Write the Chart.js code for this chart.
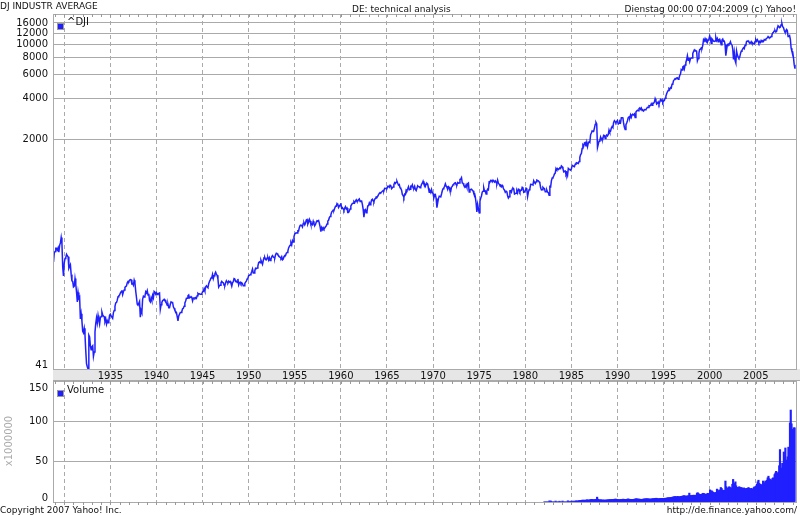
<!DOCTYPE html>
<html><head><meta charset="utf-8">
<script src="https://cdn.jsdelivr.net/npm/chart.js@4.4.1/dist/chart.umd.min.js"></script>
<style>
html,body{margin:0;padding:0;background:#fff;}
body{width:800px;height:515px;position:relative;overflow:hidden;font-family:"DejaVu Sans",sans-serif;color:#111;}
.t{position:absolute;font-size:9px;line-height:12px;white-space:nowrap;}
canvas{position:absolute;left:0;}
#c1{top:0;}
#c2{top:381px;}
.lg{position:absolute;font-size:10px;line-height:12px;white-space:nowrap;}
.sw{position:absolute;width:5px;height:5px;background:#2020ff;border:1px solid #999;}
.ytitle{position:absolute;left:7.5px;top:441px;font-size:10px;color:#aaa;white-space:nowrap;transform:translate(-50%,-50%) rotate(-90deg);}
</style></head><body>
<canvas id="c1" width="800" height="381"></canvas>
<canvas id="c2" width="800" height="134"></canvas>
<div class="t" style="left:0;top:0">DJ INDUSTR AVERAGE</div>
<div class="t" style="left:352px;top:3px">DE: technical analysis</div>
<div class="t" style="right:4px;top:3px">Dienstag 00:00 07:04:2009 (c) Yahoo!</div>
<div class="sw" style="left:57px;top:23px"></div>
<div class="lg" style="left:67px;top:16px">^DJI</div>
<div class="sw" style="left:57px;top:390px"></div>
<div class="lg" style="left:67px;top:384px">Volume</div>
<div class="ytitle">x1000000</div>
<div class="t" style="left:0;top:504px">Copyright 2007 Yahoo! Inc.</div>
<div class="t" style="right:3px;top:504px">http://de.finance.yahoo.com/</div>
<script>
// ---- DJIA monthly values (first value = October 1928) ----
const priceStartYear = 1928, priceStartMonth = 9;
const dji1920s = [252,293,300, 317,317,308,319,297,333,347,380,343,230,199,248];
const dji1930s = [
 267,271,286,279,275,226,233,240,204,183,181,165,
 167,190,172,151,128,150,136,139,96,105,93,78,
 76,82,73,56,45,42.8,41.22,73,71,61,57,60,
 61,51,55,77,89,98,90,102,94,88,98,100,
 108,103,101,100,92,96,88,93,90,93,102,104,
 101,101,97,107,111,119,126,127,132,140,142,144,
 149,152,156,145,152,157,164,166,168,177,181,180,
 185,187,186,174,175,170,185,177,154,138,123,121,
 121,129,99,111,107,134,141,139,141,152,149,155,
 144,147,131,128,137,131,143,137,153,151,146,150];
const dji1940s = [
 145,147,148,149,113,122,127,131,132,134,131,131,
 125,121,123,116,116,123,128,127,127,118,115,111,
 109,107,100,93,101,104,107,107,109,114,115,119,
 126,130,136,136,142,144,137,138,140,138,130,136,
 137,136,138,136,142,148,146,147,146,146,147,152,
 153,160,154,165,168,165,163,174,181,186,192,193,
 204,190,199,206,212,205,201,189,165,169,170,177,
 181,178,177,170,169,177,183,179,177,182,179,181,
 175,167,177,180,190,189,181,182,178,189,171,177,
 179,174,177,174,168,168,175,179,182,189,191,200];
const dji1950s = [
 201,203,206,214,223,209,209,217,226,225,227,235,
 249,252,248,259,250,242,258,270,271,262,261,269,
 271,260,270,258,263,274,280,275,271,269,284,292,
 290,284,280,275,272,268,275,261,264,276,281,281,
 292,295,303,319,327,334,348,336,361,352,387,404,
 409,412,410,426,425,451,466,468,467,455,483,488,
 471,484,512,516,478,493,518,502,475,480,473,500,
 480,465,475,494,505,503,508,484,456,421,450,436,
 450,440,447,456,463,478,503,509,532,543,558,584,
 594,604,602,624,644,644,675,665,632,647,660,679];
const dji1960s = [
 623,630,617,602,626,641,617,626,581,581,597,616,
 648,663,677,679,697,684,705,720,702,704,722,731,
 700,708,707,665,614,536,598,609,579,590,649,652,
 683,663,682,718,726,707,695,729,733,755,751,763,
 785,800,813,811,821,832,841,839,875,873,875,874,
 903,903,889,922,918,868,882,893,931,961,947,969,
 984,952,924,933,884,870,847,788,774,748,792,786,
 850,839,866,897,853,860,904,901,927,880,875,905,
 856,840,840,912,899,898,883,896,935,952,985,944,
 946,905,935,950,937,873,816,837,813,856,812,800];
const dji1970s = [
 744,778,786,736,631,684,734,765,761,756,794,839,
 869,879,904,942,908,891,858,898,887,839,831,890,
 902,928,941,954,960,929,925,964,953,956,1018,1020,
 1045,955,951,921,901,892,926,888,947,957,822,851,
 856,860,847,837,802,802,757,679,586,666,619,577,
 704,739,768,821,832,879,832,835,794,836,861,852,
 975,973,999,997,975,1003,985,974,990,965,947,1005,
 954,937,919,927,899,916,891,862,847,818,830,831,
 770,742,757,837,841,819,862,877,866,793,799,805,
 839,809,862,855,822,842,846,888,879,816,822,839];
const dji1980s = [
 876,863,759,817,851,868,935,933,932,925,993,964,
 947,975,1004,998,992,977,952,882,850,853,889,875,
 871,824,823,848,820,812,777,901,896,992,1039,1047,
 1076,1113,1130,1226,1200,1222,1199,1216,1233,1225,1276,1259,
 1221,1155,1165,1171,1105,1132,1087,1224,1207,1207,1188,1212,
 1287,1284,1267,1258,1315,1336,1348,1334,1329,1374,1472,1547,
 1571,1709,1819,1784,1877,1893,1775,1898,1768,1878,1914,1896,
 2158,2224,2305,2286,2292,2419,2572,2663,2596,1740,1834,1939,
 1958,2072,1988,2032,2031,2142,2129,2032,2113,2149,2115,2169,
 2342,2258,2294,2419,2480,2440,2661,2737,2693,2645,2706,2753];
const dji1990s = [
 2591,2627,2707,2657,2877,2881,2905,2614,2453,2365,2560,2634,
 2736,2882,2914,2888,3028,2907,3025,3044,3017,3069,2895,3169,
 3224,3268,3236,3359,3397,3319,3394,3257,3272,3226,3306,3301,
 3310,3371,3436,3428,3527,3516,3540,3651,3555,3681,3684,3754,
 3978,3832,3636,3682,3758,3625,3765,3913,3843,3908,3739,3834,
 3844,4011,4158,4321,4465,4556,4709,4648,4789,4756,5075,5117,
 5395,5486,5588,5569,5643,5655,5529,5616,5882,6029,6522,6448,
 6813,6878,6584,7009,7331,7673,8223,7622,7945,7442,7823,7908,
 7907,8546,8800,9063,8900,8952,8883,7539,7843,8592,9117,9181,
 9359,9307,9786,10789,10560,10971,10655,10829,10337,10730,10878,11497];
const dji2000s = [
 10941,10128,10922,10734,10522,10448,10522,11215,10651,10971,10415,10787,
 10887,10495,9879,10735,10912,10502,10523,9950,8236,9075,9852,10021,
 9920,10106,10404,9946,9925,9243,7702,8664,7592,7286,8896,8342,
 8054,7891,7992,8480,8850,8985,9234,9416,9275,9801,9782,10454,
 10488,10584,10358,10226,10188,10435,10140,10174,10080,10027,10428,10783,
 10490,10766,10504,10193,10467,10275,10641,10482,10569,10440,10806,10718,
 10865,10993,11109,11367,11168,11150,11186,11381,11679,12081,12222,12463,
 12622,12269,12354,13063,13628,13409,13212,13358,13896,14165,13372,13265,
 12650,12266,12263,12820,12638,11350,11378,11544,10851,9325,8829,8776,
 8001,7063,6600];

// ---- Volume, monthly (x 1,000,000), first value = January 1982 ----
const volStartYear = 1982;
const vol1980s = [
 0,0,0,0,0,0,0,1.5,0,1.2,0,0,
 0,0,0,1.2,0,0,0,0,1,0,0,0,
 1.2,0,0,0,0,0,0,1.5,0,0,1,0,
 1,0,1.2,0,1,1.2,1.5,1,1.3,1.5,1.8,1.6,
 2,2,2.5,2,2.3,2,2.5,2.2,2.8,2.3,2.5,2.4,
 2.8,3,3.2,3,2.8,2.6,3,3.2,3.4,6,3.5,3,
 2.6,2.5,2.8,2.4,2.3,2.6,2.2,2.4,2.3,2.5,2.5,2.6,
 2.8,2.8,2.9,3,3.1,3,3.2,3.4,3.2,3.8,3.1,3.2];
const vol1990s = [
 3,2.8,2.9,2.7,3.2,3,3.1,3.6,3.2,3.3,3,2.9,
 3.4,3.8,3.6,3.4,3.3,3.1,3.2,3.1,3.3,3.4,3.5,3.9,
 4,3.8,3.6,3.7,3.4,3.5,3.3,3.2,3.4,3.6,3.7,3.8,
 3.9,4,4,3.9,3.8,3.7,3.6,3.6,3.8,4,4.1,4,
 4.4,4.5,4.7,4.3,4,4,4.1,4.3,4.2,4.4,4.5,4.2,
 4.3,4.5,4.8,4.6,5,5.2,5.3,5.1,5.4,5.6,5.8,6,
 6.2,6.4,6.6,6.8,6.5,6.1,7,6,6.4,6.6,6.9,7,
 7.3,7.5,7.8,7.6,7.2,7.4,7.2,7.6,7.8,11,8,7.8,
 8,8.4,8.2,8.5,8,8.3,8.6,11,11.5,10.5,9.4,9.2,
 9.5,9.6,10.2,10.8,10.4,10,9.4,9.6,10,10.8,10.4,10.2];
const vol2000s = [
 15,13,14,13,12,11.5,11,11.5,12,16,13,14,
 15,14.5,18,17,15,14.5,14,14.5,26,19,17,16.5,
 18,19,18,17,17.5,22,28,21,23,25,20,18,
 18,17.5,19,18,17.5,18,17,16,17.5,17,16.5,16,
 17,16.5,18,17,16.5,16,17,15.5,16,18,19,18,
 20,22,25,27,23,22,20,21,22,26,24,22,
 26,25,27,30,32,29,28,26,27,29,30,28,
 34,36,38,35,36,37,45,65,40,42,48,44,
 62,55,67,52,50,56,68,60,98,114,97,88,
 90,92,92];

// ---- axes: ticks and labels ----
const xMin = 1928.78, xMax = 2009.47;
const xLabelYears = [1935,1940,1945,1950,1955,1960,1965,1970,1975,1980,1985,1990,1995,2000,2005];
const priceMin = 41.22, priceMax = 16630;
const priceTickValues = [41.22,2000,4000,6000,8000,10000,12000,14300];
const priceTickLabels = ['41','2000','4000','6000','8000','10000','12000','16000'];
const volTickValues = [0,50,100,150];
const volTickLabels = ['0','50','100','150'];

// ---- build series ----
const djiAll = [].concat(dji1920s, dji1930s, dji1940s, dji1950s, dji1960s, dji1970s, dji1980s, dji1990s, dji2000s);
const pricePoints = djiAll.map((v, i) => ({x: priceStartYear + (priceStartMonth + i + 1) / 12, y: v}));
const volAll = [].concat(vol1980s, vol1990s, vol2000s);
const volPoints = volAll.map((v, i) => ({x: volStartYear + (i + 0.5) / 12, y: v}));
const yearList = [];
for (let y = Math.ceil(xMin); y <= Math.floor(xMax); y++) yearList.push(y);

const BLUE = '#2020ff', GRID = '#aaaaaa';
Chart.defaults.font.family = '"DejaVu Sans", sans-serif';
Chart.defaults.font.size = 10;
Chart.defaults.color = '#111';

const gridColor5 = c => (c.tick && c.tick.value % 5 === 0) ? GRID : 'rgba(0,0,0,0)';

const yLabels = {
  id: 'yLabels',
  afterDraw(chart, args, o) {
    const {ctx, chartArea: a, scales: {y}} = chart;
    ctx.save();
    ctx.font = '10px "DejaVu Sans"';
    ctx.fillStyle = '#111';
    ctx.textAlign = 'right';
    ctx.textBaseline = 'middle';
    o.values.forEach((v, i) => {
      let py = y.getPixelForValue(v);
      py = Math.min(Math.max(py, a.top + o.topInset), a.bottom - o.bottomInset);
      ctx.fillText(o.labels[i], a.left - 5, py);
    });
    ctx.restore();
  }
};
const frame = {
  id: 'frame',
  beforeDraw(chart, args, o) {
    const {ctx, chartArea: a} = chart;
    if (o.band) {
      ctx.save();
      ctx.fillStyle = '#e6e6e6';
      ctx.fillRect(a.left, a.bottom, chart.width - a.left, chart.height - a.bottom);
      ctx.restore();
    }
  },
  afterDraw(chart, args, o) {
    const {ctx, chartArea: a, scales: {x}} = chart;
    ctx.save();
    ctx.strokeStyle = GRID;
    ctx.lineWidth = 1;
    ctx.strokeRect(Math.round(a.left) + 0.5, Math.round(a.top) + 0.5, Math.round(a.right - a.left) - 1, Math.round(a.bottom - a.top));
    if (o.band) {
      ctx.beginPath();
      ctx.moveTo(a.left, chart.height - 0.5); ctx.lineTo(chart.width, chart.height - 0.5);
      ctx.stroke();
    }
    ctx.strokeStyle = '#999';
    ctx.beginPath();
    for (const yr of yearList) {
      const px = Math.round(x.getPixelForValue(yr)) + 0.5;
      o.marks.forEach(([edge, len]) => {
        const y0 = edge === 'top' ? a.top : a.bottom;
        ctx.moveTo(px, y0); ctx.lineTo(px, y0 + len);
      });
    }
    ctx.stroke();
    ctx.restore();
  }
};

new Chart(document.getElementById('c1'), {
  type: 'line',
  data: {datasets: [{data: pricePoints, borderColor: BLUE, borderWidth: 1.5, pointRadius: 0, tension: 0, fill: false}]},
  options: {
    responsive: false, animation: false,
    layout: {padding: {top: 14, right: 3, left: 0, bottom: 0}},
    plugins: {legend: {display: false}, tooltip: {enabled: false},
      yLabels: {values: priceTickValues, labels: priceTickLabels, topInset: 7, bottomInset: 4},
      frame: {band: true, marks: [['top', 3]]}},
    scales: {
      x: {type: 'linear', min: xMin, max: xMax,
        afterBuildTicks: s => { s.ticks = yearList.map(v => ({value: v})); },
        afterFit: s => { s.height = 12; },
        grid: {color: gridColor5, drawTicks: false, lineWidth: 1},
        border: {display: false, dash: [4, 3]},
        ticks: {autoSkip: false, maxRotation: 0, minRotation: 0, padding: 1, color: '#111', font: {size: 10},
          callback: v => xLabelYears.includes(v) ? String(v) : ''}},
      y: {type: 'logarithmic', min: priceMin, max: priceMax,
        afterBuildTicks: s => { s.ticks = priceTickValues.map(v => ({value: v})); },
        afterFit: s => { s.width = 53; },
        grid: {color: GRID, drawTicks: false, lineWidth: 1},
        border: {display: false},
        ticks: {display: false}}
    }
  },
  plugins: [yLabels, frame]
});

new Chart(document.getElementById('c2'), {
  type: 'bar',
  data: {datasets: [{data: volPoints, backgroundColor: BLUE, borderWidth: 0, barThickness: 1.5}]},
  options: {
    responsive: false, animation: false,
    layout: {padding: {top: 0, right: 3, left: 0, bottom: 0}},
    plugins: {legend: {display: false}, tooltip: {enabled: false},
      yLabels: {values: volTickValues, labels: volTickLabels, topInset: 7, bottomInset: 4},
      frame: {band: false, marks: [['top', 3], ['bottom', 3]]}},
    scales: {
      x: {type: 'linear', min: xMin, max: xMax, offset: false,
        afterBuildTicks: s => { s.ticks = yearList.map(v => ({value: v})); },
        afterFit: s => { s.height = 13; },
        grid: {color: gridColor5, drawTicks: false, lineWidth: 1, offset: false},
        border: {display: false, dash: [4, 3]},
        ticks: {display: false}},
      y: {min: 0, max: 150,
        afterBuildTicks: s => { s.ticks = volTickValues.map(v => ({value: v})); },
        afterFit: s => { s.width = 53; },
        grid: {color: GRID, drawTicks: false, lineWidth: 1},
        border: {display: false},
        ticks: {display: false}}
    }
  },
  plugins: [yLabels, frame]
});
</script>
</body></html>
